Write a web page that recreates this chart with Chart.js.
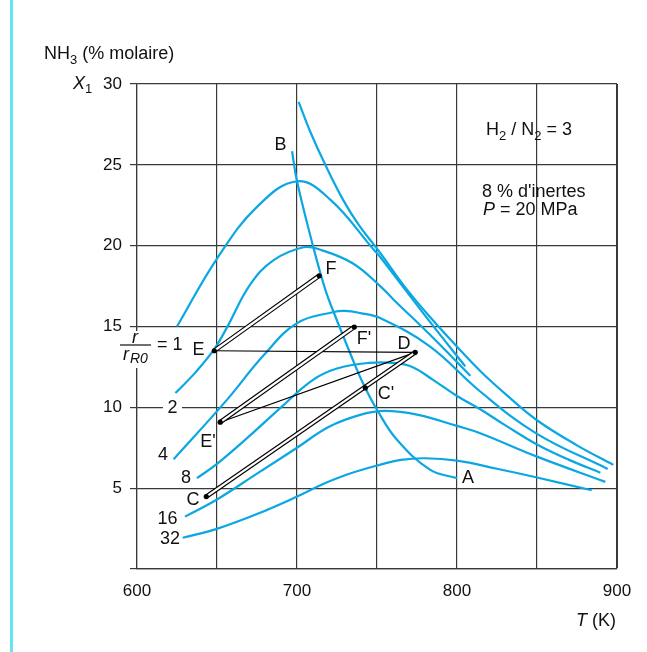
<!DOCTYPE html>
<html>
<head>
<meta charset="utf-8">
<script src="https://cdn.jsdelivr.net/npm/chart.js@4/dist/chart.umd.min.js"></script>
<style>
  body { margin: 0; background: #fff; }
  canvas { display: block; }
</style>
</head>
<body>
<canvas id="chart" width="647" height="652"></canvas>
<script>
// courbe d'equilibre (haut) et courbes r/rR0 = 1, 2, 4, 8, 16, 32
var eqT = [701, 708.5, 717.7, 729, 738.5, 752, 767, 783, 800, 814.5, 830, 850, 875, 897.7]
var eqX = [28.9, 27.0, 25.0, 22.8, 21.3, 19.55, 17.5, 15.6, 13.75, 12.25, 10.85, 9.2, 7.65, 6.44]

var r1T = [625, 650, 675, 700, 720.8, 748, 752, 783, 805.2]
var r1X = [15.0, 19.2, 22.4, 23.98, 22.85, 19.75, 19.3, 15.3, 12.53]

var r2T = [624, 636, 648.3, 656, 670.8, 685.4, 704, 714.6, 735, 752, 760.4, 783, 808.3]
var r2X = [10.88, 12.1, 13.6, 14.9, 17.6, 19.1, 19.9, 19.75, 18.9, 17.5, 16.66, 14.5, 11.95]

var r4T = [622.9, 656.2, 679, 700, 722.9, 730, 739.6, 752, 783, 814.5, 850, 894.2]
var r4X = [6.79, 10.46, 13.2, 15.21, 15.9, 15.97, 15.83, 15.52, 13.77, 10.98, 8.36, 6.19]

var r8T = [637.5, 650, 670, 690, 710, 725, 745, 760, 772, 785, 800, 815, 830, 850, 870, 889.6]
var r8X = [5.62, 6.5, 8.2, 10.0, 11.7, 12.4, 12.75, 12.75, 12.5, 11.7, 10.7, 9.85, 8.9, 7.7, 6.75, 5.96]

var r16T = [630, 650, 675, 700, 720, 740, 755, 775, 800, 814.5, 850, 892.7]
var r16X = [3.24, 4.3, 5.9, 7.5, 8.8, 9.55, 9.78, 9.55, 8.85, 8.40, 6.95, 5.39]

var r32T = [628.6, 650.3, 675, 700, 715, 730, 750, 765, 780, 800, 825, 850, 884.2]
var r32X = [1.93, 2.5, 3.4, 4.48, 5.2, 5.8, 6.4, 6.75, 6.85, 6.7, 6.2, 5.66, 4.87]

// lieu des maxima B -> A
var baT = [696.9, 700, 709.8, 717.7, 724, 737.5, 742.7, 750, 762.5, 783.3, 800]
var baX = [25.84, 23.98, 20.06, 17.28, 15.62, 12.32, 11.19, 9.85, 7.99, 6.13, 5.62]

// chemin du reacteur : C, C', D, E', F', E, F
var pathNames = ['C', "C'", 'D', "E'", "F'", 'E', 'F']
var pathT = [643.3, 742.7, 773.9, 652, 735.8, 648.3, 713.9]
var pathX = [4.48, 11.2, 13.4, 9.08, 14.97, 13.5, 18.14]

// ticks
var xTicksShown = [600, 700, 800, 900]
var yTicksShown = [5, 10, 15, 20, 25, 30]

var blue = '#0aa7e2'
var font = '"Liberation Sans", Arial, Helvetica, sans-serif'

function pts(ts, xs) {
    return ts.map(function (t, i) { return { x: t, y: xs[i] } })
}
function pt(name) {
    var i = pathNames.indexOf(name)
    return { x: pathT[i], y: pathX[i] }
}
function curve(ts, xs) {
    return {
        data: pts(ts, xs), showLine: true, borderColor: blue, borderWidth: 2.2,
        pointRadius: 0, tension: 0.4, order: 5
    }
}
function seg(a, b, color, width, order) {
    return {
        data: [pt(a), pt(b)], showLine: true, borderColor: color, borderWidth: width,
        pointRadius: 0, tension: 0, borderCapStyle: 'butt', order: order
    }
}

var datasets = [
    curve(eqT, eqX), curve(r1T, r1X), curve(r2T, r2X), curve(r4T, r4X),
    curve(r8T, r8X), curve(r16T, r16X), curve(r32T, r32X), curve(baT, baX),
    // traits doubles
    seg('C', 'D', '#000', 4.6, 3), seg('C', 'D', '#fff', 2.2, 2),
    seg("E'", "F'", '#000', 4.6, 3), seg("E'", "F'", '#fff', 2.2, 2),
    seg('E', 'F', '#000', 4.6, 3), seg('E', 'F', '#fff', 2.2, 2),
    // traits simples
    seg('D', "E'", '#000', 1.2, 3), seg('E', 'D', '#000', 1.2, 3),
    { data: pts(pathT, pathX), showLine: false, pointRadius: 2.6, pointBackgroundColor: '#000',
      pointBorderWidth: 0, order: 0 }
]

// texte avec indices
function rich(ctx, parts, x, y, size) {
    ctx.textAlign = 'left'
    ctx.textBaseline = 'alphabetic'
    parts.forEach(function (p) {
        var s = p.sub ? Math.round(size * 0.72) : size
        ctx.font = (p.it ? 'italic ' : '') + s + 'px ' + font
        ctx.fillText(p.t, x, y + (p.sub ? size * 0.27 : 0))
        x += ctx.measureText(p.t).width
    })
}
function label(ctx, t, x, y) {
    ctx.font = '18px ' + font
    ctx.textAlign = 'center'
    ctx.textBaseline = 'alphabetic'
    ctx.fillText(t, x, y)
}

var decor = {
    id: 'decor',
    beforeDraw: function (chart) {
        var ctx = chart.ctx
        ctx.save()
        ctx.fillStyle = '#fff'
        ctx.fillRect(0, 0, chart.width, chart.height)
        ctx.fillStyle = '#66e3f0'
        ctx.fillRect(10, 0, 3, chart.height)
        ctx.restore()
    },
    afterDraw: function (chart) {
        var ctx = chart.ctx
        ctx.save()
        ctx.fillStyle = '#111'
        rich(ctx, [{ t: 'NH' }, { t: '3', sub: true }, { t: ' (% molaire)' }], 44, 59, 18)
        rich(ctx, [{ t: 'X', it: true }, { t: '1', sub: true }], 73, 88.5, 18)
        rich(ctx, [{ t: 'T', it: true }, { t: ' (K)' }], 576, 626, 18)
        rich(ctx, [{ t: 'H' }, { t: '2', sub: true }, { t: ' / N' }, { t: '2', sub: true }, { t: ' = 3' }], 486, 135, 18)
        rich(ctx, [{ t: "8 % d'inertes" }], 482, 196.5, 18)
        rich(ctx, [{ t: 'P', it: true }, { t: ' = 20 MPa' }], 483, 215, 18)

        // r / rR0 = 1
        ctx.fillStyle = '#fff'
        ctx.fillRect(117, 331, 66, 37)
        ctx.fillRect(163, 399, 19, 17)
        ctx.fillStyle = '#111'
        rich(ctx, [{ t: 'r', it: true }], 132, 343, 18)
        rich(ctx, [{ t: 'r', it: true }], 123, 359.7, 18)
        ctx.font = 'italic 14px ' + font
        ctx.fillText('R0', 130, 363)
        ctx.strokeStyle = '#111'
        ctx.lineWidth = 1.2
        ctx.beginPath()
        ctx.moveTo(120, 345)
        ctx.lineTo(151, 345)
        ctx.stroke()
        rich(ctx, [{ t: '= 1' }], 157, 350, 18)

        label(ctx, '2', 172.5, 413.3)
        label(ctx, '4', 163, 460.3)
        label(ctx, '8', 186, 483.3)
        label(ctx, '16', 167.5, 523.8)
        label(ctx, '32', 170, 543.8)
        label(ctx, 'A', 468, 483.3)
        label(ctx, 'B', 280.5, 149.6)
        label(ctx, 'C', 193, 505.3)
        label(ctx, "C'", 386, 399.3)
        label(ctx, 'D', 404, 349.3)
        label(ctx, 'E', 198.5, 355.3)
        label(ctx, "E'", 208, 447.3)
        label(ctx, 'F', 331, 274.3)
        label(ctx, "F'", 364, 344.3)
        ctx.restore()
    }
}

new Chart(document.getElementById('chart'), {
    type: 'scatter',
    data: { datasets: datasets },
    options: {
        responsive: false,
        animation: false,
        devicePixelRatio: 1,
        layout: { padding: { left: 97, right: 30, top: 84, bottom: 43 } },
        plugins: { legend: { display: false }, tooltip: { enabled: false } },
        scales: {
            x: {
                type: 'linear', min: 600, max: 900,
                afterFit: function (s) { s.height = 40 },
                grid: {
                    color: '#3a3a3a', drawTicks: false,
                    lineWidth: function (c) { return c.tick && c.tick.value === 900 ? 2 : 1.2 }
                },
                border: { color: '#3a3a3a', width: 1.2 },
                ticks: {
                    stepSize: 50, autoSkip: false, maxRotation: 0, padding: 12,
                    color: '#111', font: { family: font, size: 17 },
                    callback: function (v) { return xTicksShown.indexOf(v) >= 0 ? String(v) : '' }
                }
            },
            y: {
                type: 'linear', min: 0, max: 30,
                afterFit: function (s) { s.width = 40 },
                grid: { color: '#3a3a3a', lineWidth: 1.2, tickLength: 7 },
                border: { color: '#3a3a3a', width: 1.2 },
                ticks: {
                    stepSize: 5, padding: 8, color: '#111', font: { family: font, size: 17 },
                    callback: function (v) { return yTicksShown.indexOf(v) >= 0 ? String(v) : '' }
                }
            }
        }
    },
    plugins: [decor]
});
</script>
</body>
</html>
